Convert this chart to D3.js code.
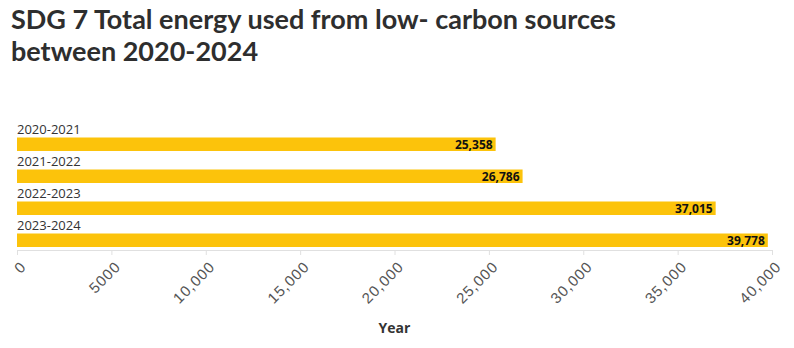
<!DOCTYPE html>
<html>
<head>
<meta charset="utf-8">
<script src="https://cdn.jsdelivr.net/npm/d3@7"></script>
<style>
  body { margin: 0; background: #fff; }
  svg { display: block; font-family: "Open Sans", sans-serif; }
</style>
</head>
<body>
<svg></svg>
<script>
        // Data
        const years = ['2020-2021', '2021-2022', '2022-2023', '2023-2024'];
        const energy = [25358, 26786, 37015, 39778];
        const xTicks = [0, 5000, 10000, 15000, 20000, 25000, 30000, 35000, 40000];

        // Chart dimensions
        const width = 794;
        const height = 348;
        const margin = { top: 120, right: 22, bottom: 98, left: 17 };

        const svg = d3.select("svg")
            .attr("width", width)
            .attr("height", height);

        // Title
        const title = svg.append("text")
            .attr("x", 11)
            .attr("fill", "#2e2e2e")
            .style("font-family", "Lato, sans-serif")
            .style("font-size", "27px")
            .style("font-weight", "bold");
        title.append("tspan").attr("x", 11).attr("y", 29).text("SDG 7 Total energy used from low- carbon sources");
        title.append("tspan").attr("x", 11).attr("y", 61).text("between 2020-2024");

        const x = d3.scaleLinear()
            .domain([0, 40000])
            .range([margin.left, width - margin.right]);

        // Each band holds a label row and a bar
        const y = d3.scaleBand()
            .domain(years)
            .range([margin.top, height - margin.bottom - 2])
            .paddingInner(0)
            .paddingOuter(0);

        const barH = 13.5;
        const barOffset = y.bandwidth() - barH - 1;

        const rows = svg.append("g")
            .selectAll("g")
            .data(years.map((d, i) => ({ year: d, value: energy[i] })))
            .join("g")
            .attr("transform", d => `translate(0,${y(d.year)})`);

        rows.append("rect")
            .attr("x", x(0))
            .attr("y", barOffset)
            .attr("width", d => x(d.value) - x(0))
            .attr("height", barH)
            .attr("fill", "#fcc30b");

        rows.append("text")
            .attr("x", x(0))
            .attr("y", barOffset - 4)
            .attr("fill", "#333")
            .style("font-size", "13px")
            .text(d => d.year);

        rows.append("text")
            .attr("x", d => x(d.value) - 3)
            .attr("y", barOffset + barH / 2)
            .attr("dy", "0.36em")
            .attr("text-anchor", "end")
            .attr("fill", "#111")
            .style("font-size", "12px")
            .style("font-weight", "bold")
            .text(d => d3.format(",")(d.value));

        // X axis
        const axisY = height - margin.bottom;
        const xAxis = svg.append("g")
            .attr("transform", `translate(0,${axisY})`)
            .call(d3.axisBottom(x)
                .tickValues(xTicks)
                .tickSize(5)
                .tickFormat(d => d >= 10000 ? d3.format(",")(d) : d));

        xAxis.select(".domain").attr("stroke", "#e0e0e0");
        xAxis.selectAll(".tick line").attr("stroke", "#e0e0e0");
        xAxis.selectAll(".tick text")
            .attr("fill", "#555")
            .style("font-size", "15px")
            .style("letter-spacing", "1px")
            .attr("text-anchor", "end")
            .attr("x", 0)
            .attr("y", 0)
            .attr("dy", "0.35em")
            .attr("transform", "translate(6,14) rotate(-45)");

        // Axis title
        svg.append("text")
            .attr("x", (x(0) + x(40000)) / 2)
            .attr("y", 333)
            .attr("text-anchor", "middle")
            .attr("fill", "#333")
            .style("font-size", "14px")
            .style("font-weight", "bold")
            .text("Year");
</script>
</body>
</html>
